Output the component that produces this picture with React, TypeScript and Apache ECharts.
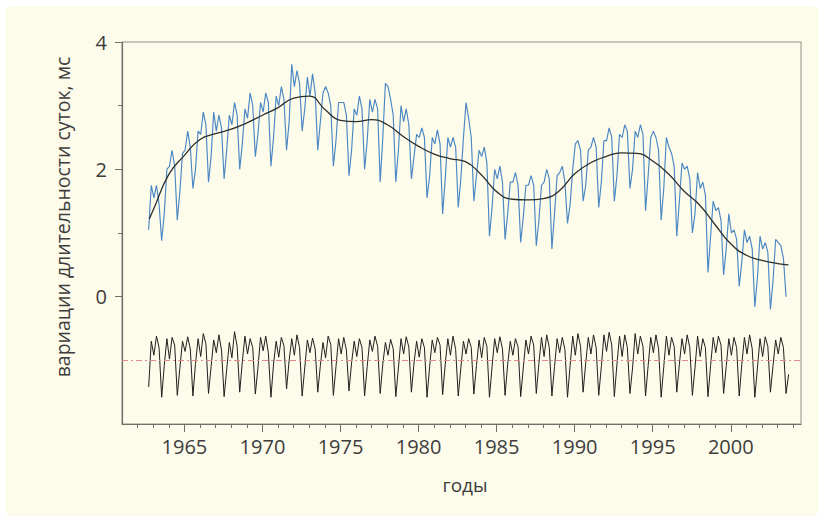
import React, { useEffect, useRef } from "react";
import * as echarts from "echarts";

// Sampling of the monthly-ish series: first sample Sep 1962, one sample every 2 months
const START_YEAR = 1962;
const START_MONTH = 8; // zero-based (Sep)
const STEP_MONTHS = 2;

// Raw length-of-day variations, ms (blue)
const lodRaw = [
  1.05, 1.75,
  1.55, 1.75, 1.45, 0.88, 1.3, 2.0,
  2.05, 2.3, 2.05, 1.2, 1.65, 2.25,
  2.3, 2.6, 2.35, 1.7, 2.0, 2.6,
  2.55, 2.9, 2.7, 1.8, 2.2, 2.9,
  2.6, 2.85, 2.65, 1.85, 2.3, 2.85,
  2.7, 3.05, 2.85, 2.0, 2.4, 2.95,
  2.8, 3.2, 3.0, 2.2, 2.55, 3.05,
  2.9, 3.2, 3.05, 2.05, 2.5, 3.15,
  3.0, 3.3, 3.1, 2.3, 2.75, 3.65,
  3.3, 3.55, 3.35, 2.6, 2.95, 3.45,
  3.15, 3.5, 3.2, 2.3, 2.75, 3.2,
  3.3, 3.2, 3.0, 2.05, 2.45, 3.05,
  3.05, 3.05, 2.85, 1.9, 2.3, 2.95,
  2.85, 3.15, 2.95, 2.0, 2.45, 3.1,
  2.9, 3.1, 2.95, 1.8, 2.5, 3.35,
  3.3, 3.1, 2.85, 1.8, 2.3, 3.0,
  2.75, 2.95, 2.7, 1.85, 2.2, 2.55,
  2.5, 2.65, 2.5, 1.55, 1.9, 2.5,
  2.4, 2.62, 2.4, 1.3, 1.85, 2.5,
  2.35, 2.5, 2.35, 1.4, 1.85, 2.5,
  3.05, 2.8, 2.5, 1.5, 1.9, 2.3,
  2.2, 2.35, 2.1, 0.95, 1.4, 2.0,
  1.85, 2.05, 1.8, 0.9, 1.3, 1.8,
  1.8, 1.95, 1.75, 0.85, 1.25, 1.75,
  1.75, 1.9, 1.75, 0.8, 1.2, 1.75,
  1.8, 2.0, 1.85, 0.75, 1.3, 1.9,
  1.95, 2.05, 1.8, 1.15, 1.45, 2.0,
  2.4, 2.45, 2.3, 1.5, 1.75, 2.3,
  2.35, 2.5, 2.35, 1.4, 1.8, 2.45,
  2.45, 2.65, 2.5, 1.5, 1.9, 2.55,
  2.5, 2.7, 2.6, 1.7, 2.0, 2.6,
  2.5, 2.7, 2.55, 1.35, 1.9, 2.5,
  2.6, 2.5, 2.3, 1.2, 1.7, 2.5,
  2.35, 2.25, 2.05, 0.95, 1.5, 2.1,
  2.0, 2.05, 1.85, 1.0, 1.3, 1.95,
  1.7, 1.8, 1.6, 0.38, 0.95, 1.5,
  1.35, 1.4, 1.2, 0.34, 0.75, 1.3,
  1.0, 1.05, 0.9, 0.16, 0.55, 1.05,
  0.85, 0.95, 0.75, -0.16, 0.3, 0.95,
  0.75, 0.85, 0.7, -0.2, 0.25, 0.9,
  0.85, 0.8, 0.6, 0.0,
];

// Seasonal component (black, lower curve)
const seasonal = [
  -1.42, -0.7,
  -0.92, -0.62, -0.8, -1.58, -1.08, -0.66,
  -0.98, -0.64, -0.76, -1.55, -1.12, -0.7,
  -0.86, -0.63, -0.82, -1.56, -1.05, -0.66,
  -0.94, -0.58, -0.74, -1.52, -1.1, -0.68,
  -0.88, -0.6, -0.84, -1.57, -1.14, -0.72,
  -0.96, -0.55, -0.78, -1.5, -1.02, -0.62,
  -0.9, -0.66, -0.8, -1.53, -1.12, -0.64,
  -0.85, -0.62, -0.88, -1.58, -1.06, -0.7,
  -0.95, -0.64, -0.77, -1.45, -1.0, -0.66,
  -0.92, -0.6, -0.8, -1.56, -1.12, -0.68,
  -0.88, -0.65, -0.82, -1.5, -1.08, -0.72,
  -0.96, -0.62, -0.75, -1.55, -1.1, -0.66,
  -0.9, -0.64, -0.84, -1.48, -1.04, -0.7,
  -0.94, -0.66, -0.8, -1.56, -1.1, -0.68,
  -0.86, -0.62, -0.78, -1.52, -1.06, -0.72,
  -0.92, -0.67, -0.82, -1.57, -1.12, -0.66,
  -0.9, -0.63, -0.79, -1.5, -1.04, -0.7,
  -0.95, -0.66, -0.8, -1.58, -1.1, -0.68,
  -0.88, -0.64, -0.76, -1.54, -1.06, -0.66,
  -0.92, -0.62, -0.83, -1.56, -1.12, -0.7,
  -0.9, -0.66, -0.8, -1.53, -1.08, -0.68,
  -0.96, -0.64, -0.78, -1.58, -1.1, -0.66,
  -0.88, -0.63, -0.82, -1.55, -1.06, -0.7,
  -0.92, -0.66, -0.79, -1.57, -1.12, -0.68,
  -0.9, -0.62, -0.76, -1.52, -1.05, -0.64,
  -0.94, -0.6, -0.8, -1.56, -1.1, -0.66,
  -0.88, -0.64, -0.83, -1.58, -1.08, -0.62,
  -0.92, -0.58, -0.78, -1.5, -1.04, -0.64,
  -0.9, -0.6, -0.8, -1.55, -1.1, -0.6,
  -0.86, -0.56, -0.76, -1.57, -1.06, -0.62,
  -0.94, -0.6, -0.8, -1.52, -1.12, -0.58,
  -0.9, -0.62, -0.78, -1.56, -1.08, -0.64,
  -0.88, -0.6, -0.82, -1.58, -1.1, -0.62,
  -0.92, -0.64, -0.78, -1.5, -1.06, -0.66,
  -0.9, -0.6, -0.8, -1.55, -1.12, -0.62,
  -0.94, -0.66, -0.8, -1.57, -1.08, -0.64,
  -0.88, -0.62, -0.76, -1.52, -1.1, -0.66,
  -0.92, -0.64, -0.8, -1.56, -1.06, -0.64,
  -0.9, -0.6, -0.82, -1.58, -1.12, -0.66,
  -0.94, -0.63, -0.78, -1.5, -1.08, -0.68,
  -0.9, -0.64, -0.8, -1.52, -1.22,
];

// Smoothed trend (black curve through the blue series)
const trendYears = [
  1962.75, 1963, 1964, 1965, 1966, 1967, 1968, 1969, 1970, 1971, 1972, 1973,
  1974, 1975, 1976, 1977, 1978, 1979, 1980, 1981, 1982, 1983, 1984, 1985,
  1986, 1987, 1988, 1989, 1990, 1991, 1992, 1993, 1994, 1995, 1996, 1997,
  1998, 1999, 2000, 2001, 2002, 2003, 2003.7,
];
const trendValues = [
  1.22, 1.36, 1.92, 2.22, 2.47, 2.56, 2.63, 2.73, 2.85, 2.97, 3.12, 3.15,
  2.94, 2.77, 2.75, 2.78, 2.7, 2.52, 2.36, 2.24, 2.17, 2.12, 1.92, 1.65,
  1.53, 1.52, 1.54, 1.66, 1.93, 2.1, 2.2, 2.26, 2.25, 2.13, 1.93, 1.66,
  1.44, 1.13, 0.83, 0.65, 0.57, 0.52, 0.5,
];

const seasonalMean = -1;

const xMajorTicks = [1965, 1970, 1975, 1980, 1985, 1990, 1995, 2000];
const xMinorTicks = [
  1962, 1963, 1964, 1965, 1966, 1967, 1968, 1969, 1970, 1971, 1972, 1973, 1974,
  1975, 1976, 1977, 1978, 1979, 1980, 1981, 1982, 1983, 1984, 1985, 1986, 1987,
  1988, 1989, 1990, 1991, 1992, 1993, 1994, 1995, 1996, 1997, 1998, 1999, 2000,
  2001, 2002, 2003, 2004,
];
const yMajorTicks = [0, 2, 4];
const yMinorTicks = [1, 3];

const yTitle = "вариации длительности суток, мс";
const xTitle = "годы";

const toSeries = (vals: number[]) =>
  vals.map((v, i) => [
    START_YEAR + (START_MONTH + STEP_MONTHS * i + 0.5) / 12,
    v,
  ]);

const FONT = "'Open Sans', 'Noto Sans', sans-serif";
const TEXT = "#3d3d3d";
const AXIS = "#707068";

export default function App() {
  const ref = useRef<HTMLDivElement>(null);
  useEffect(() => {
    if (!ref.current) return;
    const chart = echarts.init(ref.current, undefined, { renderer: "svg" });
    const baseX = {
      type: "value" as const,
      min: 1961,
      max: 2004.5,
      position: "bottom" as const,
      splitLine: { show: false },
    };
    const baseY = {
      type: "value" as const,
      min: -2,
      max: 4,
      position: "left" as const,
      splitLine: { show: false },
    };
    chart.setOption({
      animation: false,
      backgroundColor: "#ffffff",
      textStyle: { fontFamily: FONT },
      grid: {
        left: 122,
        right: 18,
        top: 42,
        bottom: 92,
        show: true,
        borderColor: "#909088",
        borderWidth: 1,
        backgroundColor: "transparent",
      },
      graphic: [
        {
          type: "rect",
          z: -10,
          silent: true,
          shape: { x: 5, y: 6, width: 814, height: 510, r: 6 },
          style: { fill: "#fdfbea" },
        },
        {
          type: "text",
          x: 62,
          y: 217,
          rotation: Math.PI / 2,
          style: {
            text: yTitle,
            fill: TEXT,
            font: `19.5px ${FONT}`,
            align: "center",
            verticalAlign: "middle",
          },
        },
        {
          type: "text",
          x: 465,
          y: 485,
          style: {
            text: xTitle,
            fill: TEXT,
            font: `19px ${FONT}`,
            align: "center",
            verticalAlign: "middle",
          },
        },
      ],
      xAxis: [
        {
          ...baseX,
          axisLine: {
            show: true,
            onZero: false,
            lineStyle: { color: AXIS, width: 1.2 },
          },
          axisTick: {
            show: true,
            length: 8,
            customValues: xMajorTicks,
            lineStyle: { color: AXIS },
          },
          axisLabel: {
            customValues: xMajorTicks,
            formatter: (v: number) => String(Math.round(v)),
            color: TEXT,
            fontSize: 20,
            fontFamily: FONT,
            margin: 12,
          },
        },
        {
          ...baseX,
          axisLine: { show: false, onZero: false },
          axisTick: {
            show: true,
            length: 4,
            customValues: xMinorTicks,
            lineStyle: { color: AXIS },
          },
          axisLabel: { show: false },
        },
      ],
      yAxis: [
        {
          ...baseY,
          axisLine: {
            show: true,
            onZero: false,
            lineStyle: { color: AXIS, width: 1.2 },
          },
          axisTick: {
            show: true,
            length: 7,
            customValues: yMajorTicks,
            lineStyle: { color: AXIS },
          },
          axisLabel: {
            customValues: yMajorTicks,
            color: TEXT,
            fontSize: 20,
            fontFamily: FONT,
            margin: 15,
          },
        },
        {
          ...baseY,
          axisLine: { show: false, onZero: false },
          axisTick: {
            show: true,
            length: 4,
            customValues: yMinorTicks,
            lineStyle: { color: AXIS },
          },
          axisLabel: { show: false },
        },
      ],
      series: [
        {
          type: "line",
          name: "raw",
          data: toSeries(lodRaw),
          showSymbol: false,
          lineStyle: { color: "#4a87c4", width: 1.15 },
          z: 2,
        },
        {
          type: "line",
          name: "trend",
          data: trendYears.map((y, i) => [y, trendValues[i]]),
          smooth: 0.5,
          showSymbol: false,
          lineStyle: { color: "#2e2e2e", width: 1.3 },
          z: 3,
        },
        {
          type: "line",
          name: "seasonal",
          data: toSeries(seasonal),
          showSymbol: false,
          lineStyle: { color: "#1f1f1f", width: 1 },
          z: 3,
          markLine: {
            silent: true,
            symbol: "none",
            label: { show: false },
            lineStyle: { color: "#e08a8a", type: [6, 3, 2, 3], width: 1 },
            data: [{ yAxis: seasonalMean }],
          },
        },
      ],
    });
    return () => chart.dispose();
  }, []);
  return (
    <div
      ref={ref}
      style={{ position: "absolute", left: 0, top: 0, width: 819, height: 516 }}
    />
  );
}
